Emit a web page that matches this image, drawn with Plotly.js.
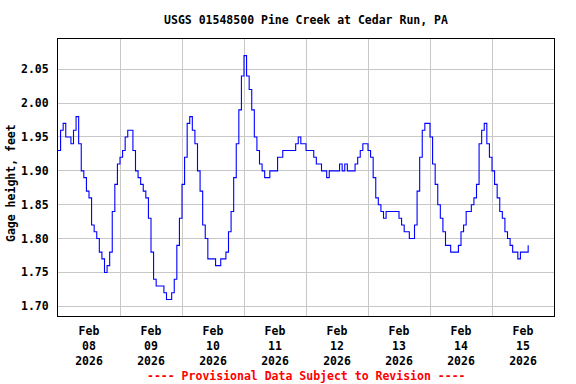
<!DOCTYPE html>
<html>
<head>
<meta charset="utf-8">
<script src="https://cdn.plot.ly/plotly-3.0.1.min.js"></script>
<style>html,body{margin:0;padding:0;background:#fff;}#chart{width:576px;height:384px;}</style>
</head>
<body>
<div id="chart"></div>
<script>
// Hourly gage height readings (feet), starting 00:00 of each day
const feb08 = [1.93,1.96,1.97,1.95,1.95,1.94,1.96,1.98,1.94,1.90,1.89,1.87,1.86,1.82,1.81,1.80,1.78,1.77,1.75,1.76,1.78,1.84,1.88,1.91];
const feb09 = [1.92,1.93,1.95,1.96,1.96,1.93,1.90,1.89,1.88,1.87,1.86,1.83,1.78,1.74,1.73,1.73,1.73,1.72,1.71,1.71,1.72,1.74,1.79,1.83];
const feb10 = [1.88,1.92,1.97,1.98,1.96,1.94,1.90,1.87,1.82,1.80,1.77,1.77,1.77,1.76,1.76,1.77,1.77,1.78,1.81,1.84,1.89,1.94,1.99,2.04];
const feb11 = [2.07,2.04,2.02,1.99,1.95,1.93,1.91,1.90,1.89,1.89,1.90,1.90,1.90,1.92,1.92,1.93,1.93,1.93,1.93,1.93,1.94,1.95,1.94,1.94];
const feb12 = [1.93,1.93,1.93,1.92,1.91,1.91,1.90,1.90,1.89,1.90,1.90,1.90,1.90,1.91,1.90,1.91,1.90,1.90,1.90,1.91,1.92,1.93,1.94,1.94];
const feb13 = [1.93,1.92,1.89,1.86,1.85,1.84,1.83,1.84,1.84,1.84,1.84,1.84,1.83,1.82,1.81,1.81,1.80,1.80,1.82,1.87,1.92,1.96,1.97,1.97];
const feb14 = [1.95,1.91,1.88,1.85,1.83,1.81,1.79,1.79,1.78,1.78,1.78,1.79,1.81,1.82,1.84,1.84,1.85,1.86,1.88,1.94,1.96,1.97,1.94,1.92];
const feb15 = [1.90,1.88,1.86,1.84,1.83,1.81,1.80,1.79,1.78,1.78,1.77,1.78,1.78,1.78,1.79];

const days = ['08','09','10','11','12','13','14','15'];
const dailySeries = [feb08, feb09, feb10, feb11, feb12, feb13, feb14, feb15];
const monthLabel = 'Feb';
const yearLabel = '2026';
const yTicks = [1.70, 1.75, 1.80, 1.85, 1.90, 1.95, 2.00, 2.05];

function pad(n){ return (n < 10 ? '0' : '') + n; }

const xs = [], ys = [];
dailySeries.forEach((vals, d) => {
  vals.forEach((v, h) => {
    xs.push('2026-02-' + days[d] + ' ' + pad(h) + ':00');
    ys.push(v);
  });
});

const tickvals = days.map(d => '2026-02-' + d + ' 12:00');
const ticktext = days.map(d => monthLabel + '<br>' + d + '<br>' + yearLabel);

const FONT = 'DejaVu Sans Mono, monospace';

const trace = {
  x: xs, y: ys, type: 'scatter', mode: 'lines',
  line: {color: '#0000ff', width: 1.1, shape: 'hv'},
  hoverinfo: 'skip'
};

const layout = {
  width: 576, height: 384,
  margin: {l: 58, r: 22, t: 39, b: 68},
  paper_bgcolor: '#ffffff', plot_bgcolor: '#ffffff',
  font: {family: FONT, size: 11.5, color: '#000000', weight: 'bold'},
  showlegend: false,
  title: {
    text: 'USGS 01548500 Pine Creek at Cedar Run, PA',
    font: {family: FONT, size: 11.5, color: '#000000', weight: 'bold'},
    x: 0.5, xref: 'paper', xanchor: 'center',
    y: 1 - 20/384, yref: 'container', yanchor: 'middle'
  },
  xaxis: {
    type: 'date',
    range: ['2026-02-08 00:00', '2026-02-16 00:00'],
    tickvals: tickvals, ticktext: ticktext,
    showgrid: false, zeroline: false,
    ticks: '', ticklabelstandoff: 4,
    showline: true, mirror: true, linecolor: '#000000', linewidth: 1,
    minor: {dtick: 86400000, tick0: '2026-02-08 00:00', showgrid: true, gridcolor: '#c8c8c8', gridwidth: 1, ticks: ''},
    fixedrange: true
  },
  yaxis: {
    range: [1.6857, 2.0946],
    tickvals: yTicks, tickformat: '.2f',
    showgrid: true, gridcolor: '#c8c8c8', gridwidth: 1, zeroline: false,
    ticks: '', ticklabelstandoff: 6,
    showline: true, mirror: true, linecolor: '#000000', linewidth: 1,
    fixedrange: true
  },
  annotations: [{
    text: '---- Provisional Data Subject to Revision ----',
    xref: 'paper', yref: 'paper', x: 0.5, y: -(376 - 316) / 277,
    xanchor: 'center', yanchor: 'middle', showarrow: false,
    font: {family: FONT, size: 11.5, color: '#ff0000', weight: 'bold'}
  }, {
    text: 'Gage height, feet',
    xref: 'paper', yref: 'paper', x: (11 - 58) / 496, y: 1 - (183 - 39) / 277,
    xanchor: 'center', yanchor: 'middle', textangle: -90, showarrow: false,
    font: {family: FONT, size: 11.5, color: '#000000', weight: 'bold'}
  }]
};

Plotly.newPlot('chart', [trace], layout, {staticPlot: true, displayModeBar: false});
</script>
</body>
</html>
